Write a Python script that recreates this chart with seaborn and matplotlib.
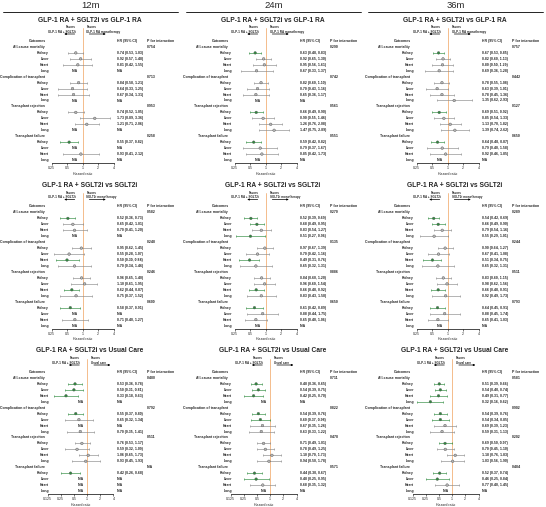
import numpy as np
import pandas as pd
import matplotlib
matplotlib.use('Agg')
import matplotlib.pyplot as plt
from matplotlib.lines import Line2D
from matplotlib.ticker import NullLocator
import matplotlib.transforms as mtransforms
import seaborn as sns

# ============================================================
# Data (rows: Kidney, Liver, Heart, Long for each outcome)
# ============================================================
OUTCOMES = ['All-cause mortality', 'Complication of transplant',
            'Transplant rejection', 'Transplant failure']
ORGANS = ['Kidney', 'Liver', 'Heart', 'Long']
PERIODS = ['12m', '24m', '36m']
COMPARISONS = ['GLP-1 RA + SGLT2i vs GLP-1 RA',
               'GLP-1 RA + SGLT2i vs SGLT2i',
               'GLP-1 RA + SGLT2i vs Usual Care']
FAVORS_RIGHT = ['Favors\nGLP-1 RA monotherapy',
                'Favors\nSGLT2i monotherapy',
                'Favors\nUsual care']

# --- vs GLP-1 RA ---
HR_GLP_12 = [0.74, 0.92, 0.81, None, 0.84, 0.64, 0.67, None, 0.74, 1.73, 1.21, None, 0.55, None, 0.93, None]
LO_GLP_12 = [0.53, 0.57, 0.42, None, 0.58, 0.33, 0.34, None, 0.52, 0.89, 0.71, None, 0.37, None, 0.41, None]
HI_GLP_12 = [1.03, 1.48, 1.55, None, 1.21, 1.25, 1.31, None, 1.05, 3.36, 2.06, None, 0.82, None, 2.12, None]
P_GLP_12 = ['0.754', '0.713', '0.953', '0.258']

HR_GLP_24 = [0.63, 0.92, 0.95, 0.67, 0.82, 0.70, 0.65, None, 0.66, 0.90, 1.26, 1.47, 0.59, 0.79, 0.85, None]
LO_GLP_24 = [0.48, 0.65, 0.56, 0.33, 0.60, 0.43, 0.36, None, 0.49, 0.55, 0.76, 0.75, 0.42, 0.37, 0.42, None]
HI_GLP_24 = [0.83, 1.30, 1.61, 1.37, 1.10, 1.16, 1.17, None, 0.90, 1.46, 2.08, 2.89, 0.82, 1.67, 1.73, None]
P_GLP_24 = ['0.290', '0.742', '0.561', '0.551']

HR_GLP_36 = [0.67, 0.82, 0.80, 0.69, 0.78, 0.63, 0.78, 1.35, 0.69, 0.85, 1.13, 1.39, 0.64, 0.79, 0.92, None]
LO_GLP_36 = [0.53, 0.60, 0.50, 0.36, 0.55, 0.39, 0.45, 0.62, 0.51, 0.54, 0.70, 0.74, 0.48, 0.40, 0.46, None]
HI_GLP_36 = [0.85, 1.13, 1.29, 1.28, 1.08, 1.01, 1.36, 2.93, 0.92, 1.33, 1.82, 2.62, 0.87, 1.58, 1.85, None]
P_GLP_36 = ['0.757', '0.442', '0.127', '0.650']

# --- vs SGLT2i ---
HR_SGL_12 = [0.52, 0.65, 0.70, None, 0.95, 0.55, 0.50, 0.70, 0.96, 1.10, 0.62, 0.75, 0.58, None, 0.71, None]
LO_SGL_12 = [0.36, 0.42, 0.41, None, 0.62, 0.28, 0.30, 0.34, 0.65, 0.61, 0.44, 0.37, 0.37, None, 0.40, None]
HI_SGL_12 = [0.73, 1.01, 1.20, None, 1.45, 1.07, 0.84, 1.46, 1.40, 1.95, 0.87, 1.52, 0.91, None, 1.27, None]
P_SGL_12 = ['0.582', '0.248', '0.246', '0.600']

HR_SGL_24 = [0.52, 0.68, 0.83, 0.51, 0.97, 0.70, 0.49, 0.65, 0.84, 0.96, 0.66, 0.83, 0.61, 0.88, 0.65, None]
LO_SGL_24 = [0.39, 0.49, 0.54, 0.27, 0.67, 0.42, 0.31, 0.32, 0.60, 0.60, 0.48, 0.43, 0.42, 0.44, 0.40, None]
HI_SGL_24 = [0.69, 0.95, 1.27, 0.96, 1.39, 1.16, 0.76, 1.31, 1.20, 1.54, 0.92, 1.58, 0.89, 1.75, 1.06, None]
P_SGL_24 = ['0.270', '0.135', '0.886', '0.650']

HR_SGL_36 = [0.54, 0.66, 0.79, 0.55, 0.90, 0.67, 0.51, 0.65, 0.83, 0.98, 0.66, 0.92, 0.64, 0.88, 0.65, None]
LO_SGL_36 = [0.42, 0.49, 0.54, 0.29, 0.64, 0.41, 0.34, 0.32, 0.60, 0.62, 0.48, 0.49, 0.45, 0.45, 0.41, None]
HI_SGL_36 = [0.69, 0.90, 1.16, 1.01, 1.27, 1.08, 0.75, 1.31, 1.15, 1.56, 0.91, 1.73, 0.91, 1.74, 1.03, None]
P_SGL_36 = ['0.289', '0.244', '0.511', '0.793']

# --- vs Usual Care ---
HR_UC_12 = [0.53, 0.50, 0.33, None, 0.55, 0.65, None, 0.70, 0.76, 0.59, 1.06, 0.93, 0.42, None, None, None]
LO_UC_12 = [0.36, 0.31, 0.18, None, 0.37, 0.32, None, 0.35, 0.53, 0.32, 0.65, 0.45, 0.26, None, None, None]
HI_UC_12 = [0.78, 0.81, 0.63, None, 0.80, 1.34, None, 1.41, 1.17, 1.09, 1.73, 1.93, 0.68, None, None, None]
P_UC_12 = ['0.480', '0.792', '0.511', 'N/A']

HR_UC_24 = [0.48, 0.54, 0.42, None, 0.54, 0.60, 0.67, 0.63, 0.71, 0.78, 1.10, 0.94, 0.44, 0.48, 0.68, None]
LO_UC_24 = [0.36, 0.39, 0.25, None, 0.39, 0.37, 0.35, 0.33, 0.49, 0.49, 0.70, 0.50, 0.30, 0.25, 0.35, None]
HI_UC_24 = [0.65, 0.75, 0.70, None, 0.76, 0.98, 1.26, 1.22, 1.01, 1.25, 1.73, 1.78, 0.67, 0.95, 1.32, None]
P_UC_24 = ['0.711', '0.822', '0.478', '0.571']

HR_UC_36 = [0.51, 0.54, 0.49, 0.32, 0.54, 0.54, 0.69, 0.59, 0.69, 0.70, 1.18, 1.03, 0.52, 0.46, 0.77, None]
LO_UC_36 = [0.39, 0.40, 0.31, 0.16, 0.39, 0.34, 0.39, 0.31, 0.50, 0.45, 0.76, 0.56, 0.37, 0.25, 0.40, None]
HI_UC_36 = [0.66, 0.74, 0.77, 0.62, 0.76, 0.85, 1.23, 1.13, 0.97, 1.10, 1.83, 1.90, 0.74, 0.84, 1.45, None]
P_UC_36 = ['0.581', '0.902', '0.202', '0.484']

PANELS = [
    [(HR_GLP_12, LO_GLP_12, HI_GLP_12, P_GLP_12),
     (HR_GLP_24, LO_GLP_24, HI_GLP_24, P_GLP_24),
     (HR_GLP_36, LO_GLP_36, HI_GLP_36, P_GLP_36)],
    [(HR_SGL_12, LO_SGL_12, HI_SGL_12, P_SGL_12),
     (HR_SGL_24, LO_SGL_24, HI_SGL_24, P_SGL_24),
     (HR_SGL_36, LO_SGL_36, HI_SGL_36, P_SGL_36)],
    [(HR_UC_12, LO_UC_12, HI_UC_12, P_UC_12),
     (HR_UC_24, LO_UC_24, HI_UC_24, P_UC_24),
     (HR_UC_36, LO_UC_36, HI_UC_36, P_UC_36)],
]

# ============================================================
# Style
# ============================================================
sns.set_style('white')
plt.rcParams['font.family'] = ['Liberation Sans', 'DejaVu Sans']

GREEN = '#2e8b3e'
GREY = '#8a8a8a'
REF = '#f2b27a'
FS = 2.5

W, H = 546, 507
fig = plt.figure(figsize=(W / 100, H / 100), dpi=100)
fig.patch.set_facecolor('white')


def fx(x):
    return x / W


def fy(y):
    return 1 - y / H


COL_X = [0, 183, 365]

# column headers
for c, period in enumerate(PERIODS):
    ox = COL_X[c]
    fig.text(fx(ox + 91), fy(5), period, ha='center', va='center', fontsize=6.8)
    fig.add_artist(Line2D([fx(ox + 3), fx(ox + 178)], [fy(12), fy(12)],
                          color='black', lw=0.6))

for r in range(3):
    oy = r * 165.5
    xmin = 0.25 if r < 2 else 0.125
    ticks = [0.25, 0.5, 1, 2, 4] if r < 2 else [0.125, 0.25, 0.5, 1, 2, 4]
    for c in range(3):
        ox = COL_X[c]
        hr, lo, hi, pv = PANELS[r][c]

        left = ox + (51.5 if r < 2 else 47.5)
        right = ox + 113.5
        top = oy + 38
        bot = oy + 163
        ax = fig.add_axes([fx(left), fy(bot), (right - left) / W, (bot - top) / H])
        ax.set_xscale('log', base=2)
        ax.set_xlim(xmin, 4)
        ax.set_ylim(20.5, -0.5)

        fig.text(fx(ox + 90), fy(oy + 20), COMPARISONS[r], ha='center', va='center',
                 fontsize=4.8, fontweight='bold')

        # build table
        rows = []
        for g in range(4):
            for k in range(4):
                i = g * 4 + k
                rows.append({'row': 2 + g * 5 + k, 'organ': ORGANS[k],
                             'hr': hr[i], 'lo': lo[i], 'hi': hi[i]})
        df = pd.DataFrame(rows)
        dfv = df.dropna().copy()
        dfv['sig'] = np.where(dfv['hi'] < 1, 'sig', 'ns')

        ax.axvline(1, ymin=0, ymax=(bot - (oy + 28)) / (bot - top), color=REF,
                   lw=0.6, clip_on=False, zorder=1)

        for sig, col in [('ns', GREY), ('sig', GREEN)]:
            d = dfv[dfv['sig'] == sig]
            if len(d) == 0:
                continue
            ax.errorbar(d['hr'], d['row'], xerr=[d['hr'] - d['lo'], d['hi'] - d['hr']],
                        fmt='none', ecolor=col, elinewidth=0.45, capsize=1.0,
                        capthick=0.45, zorder=2)
        sns.scatterplot(data=dfv, x='hr', y='row', hue='sig',
                        palette={'sig': GREEN, 'ns': '#b5b5b5'},
                        hue_order=['ns', 'sig'], s=3.5, linewidth=0.3,
                        edgecolor='#555555', legend=False, ax=ax, zorder=3)

        ax.set_xticks(ticks)
        ax.set_xticklabels([f'{t:g}' for t in ticks])
        ax.xaxis.set_minor_locator(NullLocator())
        ax.set_yticks([])
        ax.tick_params(axis='x', labelsize=FS, length=1.5, width=0.45, pad=0.8,
                       direction='out', bottom=True)
        for s in ['top', 'right', 'left']:
            ax.spines[s].set_visible(False)
        ax.spines['bottom'].set_linewidth(0.5)
        ax.spines['bottom'].set_color('black')
        ax.set_xlabel('Hazard ratio', fontsize=FS, labelpad=1.0)
        ax.set_ylabel('')
        ax.set_facecolor('none')

        trans = mtransforms.blended_transform_factory(fig.transFigure, ax.transData)
        # header row
        ax.text(fx(ox + 46), 0, 'Outcomes', transform=trans, ha='right', va='center',
                fontsize=FS, fontweight='bold')
        ax.text(fx(ox + 117), 0, 'HR (95% CI)', transform=trans, ha='left', va='center',
                fontsize=FS, fontweight='bold')
        ax.text(fx(ox + 147), 0, 'P for interaction', transform=trans, ha='left',
                va='center', fontsize=FS, fontweight='bold')

        for g, name in enumerate(OUTCOMES):
            gy = 1 + g * 5
            ax.text(fx(ox + 45), gy, name, transform=trans, ha='right', va='center',
                    fontsize=FS, fontweight='bold')
            ax.text(fx(ox + 147), gy, pv[g], transform=trans, ha='left', va='center',
                    fontsize=FS, fontweight='bold')

        for _, row in df.iterrows():
            ax.text(fx(ox + 49), row['row'], row['organ'], transform=trans, ha='right',
                    va='center', fontsize=FS, fontweight='bold')
            if pd.isna(row['hr']):
                ax.text(0.72, row['row'], 'N/A', ha='center', va='center', fontsize=FS,
                        fontweight='bold')
                label = 'N/A'
            else:
                label = f"{row['hr']:.2f} ({row['lo']:.2f}, {row['hi']:.2f})"
            ax.text(fx(ox + 117), row['row'], label, transform=trans, ha='left',
                    va='center', fontsize=FS, fontweight='bold')

        # favors header
        ref_px = left + (right - left) * (0 - np.log2(xmin)) / (2 - np.log2(xmin))
        fig.text(fx(ref_px - 7), fy(oy + 29.5), 'Favors\nGLP-1 RA + SGLT2i', ha='right',
                 va='center', fontsize=2.2, fontweight='bold', linespacing=1.1)
        fig.text(fx(ref_px + 4), fy(oy + 29.5), FAVORS_RIGHT[r], ha='left',
                 va='center', fontsize=2.2, fontweight='bold', linespacing=1.1)
        fig.add_artist(matplotlib.patches.FancyArrowPatch(
            (fx(ref_px - 5), fy(oy + 34)), (fx(ref_px - 21), fy(oy + 34)),
            transform=fig.transFigure, arrowstyle='-|>', mutation_scale=2.5,
            lw=0.5, color='black'))
        fig.add_artist(matplotlib.patches.FancyArrowPatch(
            (fx(ref_px + 4), fy(oy + 34)), (fx(ref_px + 26), fy(oy + 34)),
            transform=fig.transFigure, arrowstyle='-|>', mutation_scale=2.5,
            lw=0.5, color='black'))

fig.savefig('out.png', dpi=100, facecolor='white')
